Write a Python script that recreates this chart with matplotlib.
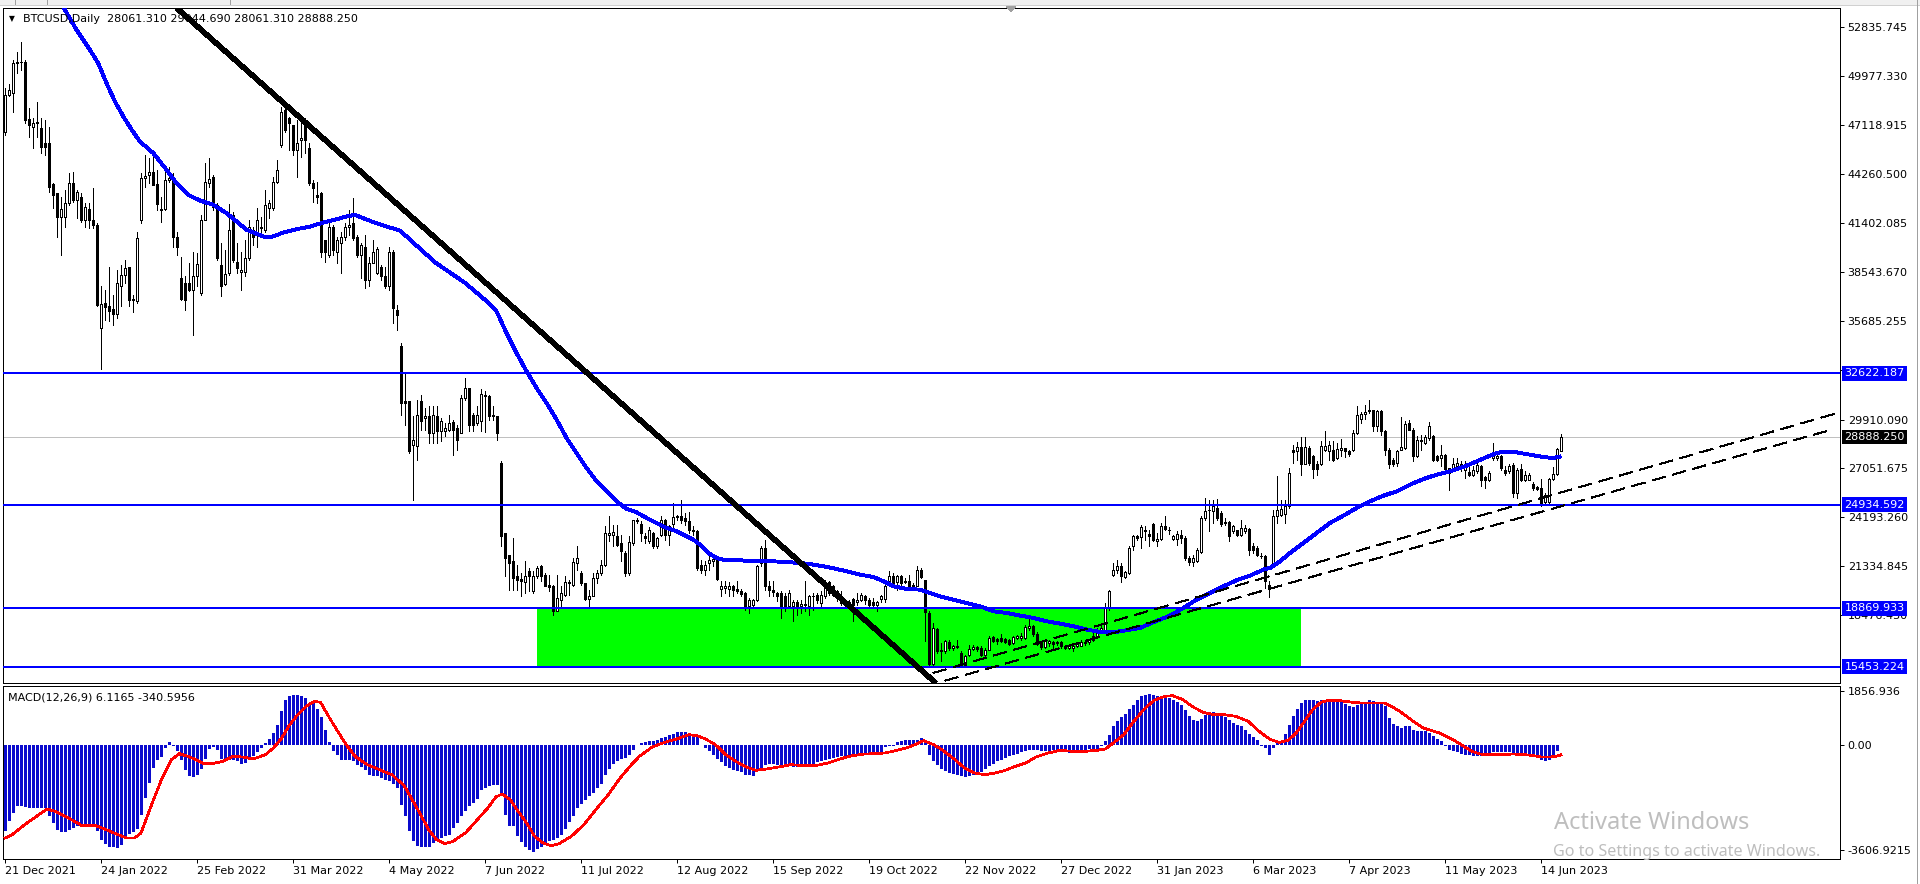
import matplotlib
matplotlib.use('Agg')
import matplotlib.pyplot as plt
import matplotlib.transforms as mtransforms
from matplotlib.patches import Rectangle
import numpy as np

plt.rcParams['font.family'] = ['DejaVu Sans']
plt.rcParams['lines.scale_dashes'] = False
plt.rcParams['lines.antialiased'] = False
plt.rcParams['patch.antialiased'] = False

# ---------------- data ----------------
symbol_header = "BTCUSD,Daily  28061.310 29044.690 28061.310 28888.250"
macd_header = "MACD(12,26,9) 6.1165 -340.5956"

date_labels = ["21 Dec 2021", "24 Jan 2022", "25 Feb 2022", "31 Mar 2022", "4 May 2022",
               "7 Jun 2022", "11 Jul 2022", "12 Aug 2022", "15 Sep 2022", "19 Oct 2022",
               "22 Nov 2022", "27 Dec 2022", "31 Jan 2023", "6 Mar 2023", "7 Apr 2023",
               "11 May 2023", "14 Jun 2023"]
bars_per_label = 24

price_ticks = [52835.745, 49977.330, 47118.915, 44260.500, 41402.085, 38543.670, 35685.255,
               32826.840, 29910.090, 27051.675, 24193.260, 21334.845, 18476.430]
level_lines = [32622.187, 24934.592, 18869.933, 15453.224]
bid_price = 28888.250
macd_ticks = [1856.936, 0.0, -3606.9215]
macd_tick_labels = ["1856.936", "0.00", "-3606.9215"]

open_ = [46739,48881,48978,50731,50828,50828,47460,47031,47226,46934,
 46058,46058,43683,43137,41775,41775,42553,43722,42748,42943,
 41580,42222,41580,41288,35252,36712,36557,36362,36089,37686,
 38367,38796,36907,36810,41580,44014,44208,44403,43683,42203,
 42203,43916,44014,40567,38173,37881,37881,37491,38270,37296,
 41580,43722,44111,42456,38951,37842,38465,41872,39146,38562,
 38562,39341,40996,40704,41190,40996,42261,42261,43819,45961,
 48005,47518,47129,45669,46253,47226,45766,43761,43040,43137,
 40412,39536,41190,39730,40217,40606,41190,41385,40606,39536,
 40022,38075,39049,38465,38854,38270,37686,39730,36323,
 34181,30969,30969,28438,28340,30969,29995,30131,29119,30131,
 29216,29216,29314,29742,29411,29119,31163,31747,30190,29703,
 29800,31261,31261,30190,30092,27367,23278,22012,21623,20747,
 20591,20397,21039,19871,20786,21331,20844,20260,20202,18703,
 19384,19676,20397,20260,21526,20942,20357,19423,19579,20650,
 20942,21428,23181,23181,23083,22694,22110,20942,22694,23959,
 23823,23083,22791,23278,22499,23181,24057,23181,23823,24213,
 24290,24154,23959,23473,23414,21428,21136,21526,21623,21681,
 20007,20065,20007,20202,20007,19910,19773,19034,19053,19384,
 21526,22402,20202,19929,19773,19773,19579,19034,
 18995,19248,18995,19092,18995,19618,19676,19190,19579,20397,
 20163,19871,19482,19287,19092,19443,19229,19384,19579,19384,
 19229,19092,19423,19423,20455,20786,20397,20786,20397,20494,
 20202,20202,21098,20553,18606,15646,17671,16464,16367,16892,
 16561,16620,16269,15588,16172,16503,16600,16561,16172,16464,
 17184,17087,17145,17087,17048,16853,17145,17145,17145,17729,
 17827,17398,16853,16620,16853,16892,16853,16892,16698,16561,
 16561,16698,16698,16853,16892,17009,17204,17476,17632,18898,
 20845,21137,21370,20708,20942,22539,23084,23045,23473,23220,
 23824,22792,22928,23707,23473,22928,22928,
 23181,22987,21818,21565,21624,22149,24155,24602,24544,24739,
 24447,23902,23902,23376,23434,23181,23376,23512,22500,22402,
 21955,21916,20261,21526,24291,24349,24408,24836,28107,28049,
 28302,27328,28243,27796,27328,27328,28146,28049,28146,27659,
 28146,28243,28049,28146,29120,29937,30249,30385,30444,29509,
 30385,29217,28146,27562,27367,28146,28243,29704,29314,27757,
 28730,28535,28828,28964,27757,27659,27854,27075,26978,27212,
 27328,26978,26822,26686,26881,27212,26550,26394,27659,27659,
 27757,26978,26881,27270,25615,27017,26394,26394,26160,25946,
 25907,25070,25070,26433,26744,28061.31]

high_ = [49271,49524,50925,51412,51996,50925,48102,47518,48492,47518,
 47421,47031,43722,43137,42943,43332,44306,44364,43332,43137,
 42553,42553,43430,41385,37686,37491,38854,37199,38659,38951,
 39243,38854,37199,40898,44306,45377,45182,45279,44500,42943,
 44695,44695,44306,40898,39438,38270,39049,39730,39633,41872,
 44890,45182,44208,42553,40217,39828,42514,42067,40217,39730,
 40412,41580,41190,42261,41775,43332,42748,44111,45084,48200,
 48102,47616,47129,47421,47324,47518,46058,43916,43819,43235,
 40412,41385,41288,40606,40898,41385,42164,42845,40704,40217,
 40704,39438,40412,39983,38951,38854,40022,39828,36615,
 34376,32624,30969,30092,31066,31358,30579,30677,30677,30677,
 29995,29703,30190,29898,29606,31358,32332,31747,30287,30677,
 31689,31553,31358,30677,30092,27464,23278,22012,22986,21428,
 20942,21623,21234,21039,21331,21428,20942,20844,20260,20844,
 20163,20747,20552,21818,22499,21039,20357,19968,20942,21136,
 21720,23667,24251,23765,23765,23181,22207,23122,24057,24154,
 23959,23278,23628,23317,23044,24251,24096,23765,25030,24349,
 25225,24446,24485,23667,23473,21720,21623,21915,21915,21720,
 20455,20455,20397,20260,20455,20007,19812,19481,19423,21428,
 22499,22889,20455,20455,19812,19871,19773,19968,
 19384,19384,19384,20455,19676,19774,19774,19871,20553,20455,
 20261,19968,19871,19384,19384,19482,19774,19774,19676,19482,
 19482,19287,19676,20358,21078,20942,20845,20845,20650,20845,
 20358,21331,21234,20553,18703,18021,17729,16853,17048,17048,
 16756,17048,16367,16172,16756,16756,16659,16659,16561,17243,
 17282,17145,17398,17145,17087,17243,17340,17437,17924,18314,
 17924,17476,16951,17048,17009,16951,16951,16951,16756,16756,
 16814,16892,17048,17048,17087,17437,17729,17827,19190,19968,
 21526,21682,21526,21039,22500,23181,23181,23765,23668,23473,
 23862,23278,23862,24291,23629,23181,23376,
 23473,23084,21916,22013,22402,24252,25323,25226,25226,25265,
 24544,24155,23960,23765,23473,24057,23765,23571,22694,22500,
 22110,22013,20455,24641,26588,25226,25226,27075,28438,28574,
 28886,28886,28341,27854,27465,28633,29217,28633,28633,28535,
 28769,28243,28146,29314,30677,30327,30775,31067,30482,30482,
 30444,29275,28243,27659,28146,30054,29801,29860,29412,28925,
 29022,29022,29743,29022,27854,28438,27913,27075,27659,27659,
 27465,27465,27328,27173,27367,27270,26588,26881,28535,27854,
 27854,27212,27328,27367,27075,27328,26881,26783,26238,26004,
 26433,25615,26491,27134,28243,29044.69]

low_ = [46545,48823,47908,50147,50341,47226,46447,45766,46447,45474,
 45377,43235,42261,40606,39536,41190,42456,42651,41677,41483,
 41190,41093,41093,36518,32857,35739,35642,35447,35836,36518,
 37881,36518,36167,36712,41385,43527,43722,43624,42164,41483,
 42164,43819,40022,39536,36907,36323,37394,34863,37686,37199,
 41580,43527,42164,39243,37102,37783,38367,39146,38465,37491,
 38270,39243,40120,40022,40801,40898,41677,42164,43722,45863,
 46739,45669,45377,44111,45279,45474,43624,42651,42553,39438,
 39146,39438,39536,39049,38465,40412,40704,40412,39438,38173,
 37589,37686,39049,38426,38075,37589,37491,35544,35155,
 30190,29606,27951,25225,27561,29314,29314,28535,28535,28535,
 28632,28924,29216,27853,28145,29119,31066,29216,29216,29606,
 29216,29158,29898,29859,28730,22499,20747,19968,19968,19968,
 19579,19773,19871,19773,20650,20455,20163,19871,18508,18703,
 18897,19618,19676,20163,21136,20260,19384,18897,19579,20357,
 20844,21331,22791,22499,22499,21623,20747,20844,22597,23862,
 22791,22694,22694,22402,22402,23083,22889,22597,23473,24057,
 23862,23765,23278,23181,21136,20942,20844,21136,21331,20552,
 19579,19773,19579,19579,19773,19579,18800,18605,18897,19287,
 21331,19968,19579,19579,19287,18313,18703,18897,
 18119,18508,18606,18703,18508,18800,19190,18995,19482,19676,
 19579,19287,19092,18995,18995,18119,19092,19287,19151,19034,
 18995,18703,19229,19229,20261,20202,19968,20163,20358,20066,
 20163,20163,20650,16951,15588,15588,16269,15782,16269,16464,
 16464,16561,15529,15529,16074,16464,16367,16074,16074,16425,
 16892,16814,16892,16853,16756,16814,17087,17048,17087,17632,
 17243,16756,16503,16561,16698,16561,16756,16561,16503,16503,
 16367,16620,16659,16756,16814,16951,17145,17437,17535,18800,
 20747,20942,20397,20650,20903,22305,22889,22402,22889,22500,
 22792,22500,22889,23473,23239,22889,22597,
 22694,21721,21429,21370,21565,22110,24057,23376,23863,24057,
 23668,23765,22792,23279,23084,23084,23279,22013,22110,21916,
 21818,20066,19540,21429,23863,24252,23863,24739,27367,27562,
 26686,27328,27270,26491,26686,27270,28049,27562,27465,27601,
 27757,27718,27757,28049,29081,29704,29937,30288,29217,29217,
 29022,27854,27075,27212,27173,28146,28185,29275,27465,27718,
 28146,28497,28730,27465,27465,27173,26939,25810,26881,26978,
 26881,26491,26628,26588,26783,26004,25907,26296,27562,27562,
 26978,26686,26783,25381,25323,26296,26296,26355,25810,25771,
 24836,24934,25031,26394,26686,28061.31]

close_ = [48881,49173,50731,50828,50789,47421,47129,47226,47324,45863,
 45863,43527,43040,41775,42203,42553,43722,42748,43235,41580,
 42320,41580,41288,36615,36654,36459,36226,36089,37881,38367,
 38757,36907,36946,40509,44014,44169,44364,43624,42495,42144,
 43916,44014,40606,40022,36946,36907,37452,38270,39010,41580,
 43819,43975,42359,39341,37725,38406,40996,39243,38757,38659,
 39341,41190,40606,41580,41093,42456,42553,43819,44500,47908,
 46837,47226,45669,46058,46350,46253,43722,43430,42943,39730,
 39730,41190,39828,40412,40606,41190,41288,40509,39536,40120,
 38075,39049,39730,39867,38270,37686,39730,36420,36031,
 30871,30871,28048,28730,30190,29800,30092,29119,30190,29216,
 29800,29411,29703,29314,28730,31163,31747,29606,29606,30190,
 31397,31358,30092,30092,29119,23083,21818,21526,20650,20552,
 20455,20747,20747,20786,21234,20786,20163,20124,18703,19481,
 19773,20397,20357,21565,21818,20357,19442,19618,20650,20942,
 21428,23278,23278,23317,22597,22207,20942,22752,24057,24057,
 23278,22986,23434,22499,22986,24057,23181,23667,24213,24251,
 24057,23959,23473,23375,21234,21136,21428,21720,21759,20591,
 20202,20163,20202,19968,19910,19715,18995,19384,19384,21331,
 22402,20202,19968,19832,19579,18995,18995,19773,
 19248,18995,19131,19151,19618,19579,19384,19637,20358,19774,
 19676,19482,19190,19092,19229,19092,19384,19676,19384,19092,
 19092,19229,19579,20202,20786,20358,20747,20358,20494,20202,
 20261,21137,20708,18645,15646,17729,16367,16367,16951,16561,
 16698,16659,15588,16074,16503,16620,16503,16172,16464,17145,
 16951,16951,16951,16892,16814,17204,17243,17243,17788,17827,
 17398,16814,16620,16951,16951,16814,16892,16659,16561,16659,
 16698,16814,16892,16931,17048,17243,17476,17729,18898,19871,
 21137,21370,20747,20981,22402,23084,22967,23629,23376,23084,
 22889,22928,23707,23512,23434,23123,23239,
 22987,21818,21565,21818,22305,24155,24544,24641,24836,24155,
 23804,23863,23084,23668,23181,23571,23571,22266,22305,22013,
 21916,20455,20008,24252,24641,24681,24836,26783,27990,28302,
 27328,28302,27367,27017,27017,28380,28380,28438,27562,28185,
 28243,28049,27913,29120,30190,30249,30327,30444,29509,30385,
 29217,28146,27328,27328,28049,28302,29665,29314,27757,28730,
 28633,28886,29509,27523,27523,27854,27017,26783,27328,27367,
 27075,27212,26686,26939,27270,26355,26394,26783,27757,27796,
 27075,26783,27212,25615,26978,26355,26686,26686,25907,25849,
 25031,25518,26433,26744,28185,28888.25]

# blue moving average (bar position, value)
ma_idx = [14, 15, 17.9, 21.25, 23.3, 25.4, 27.5, 29.6, 31.7, 33.75, 37.1, 40.4, 42.9, 45.8,
          48.75, 52.1, 55.4, 57.9, 60.4, 63, 65, 67, 69.6, 72.9, 76.25, 79.6, 82.9, 85.4,
          87.5, 89.6, 92.1, 95.4, 98.75, 107.5, 115,
          120, 122.9, 125, 127.9, 130.4, 132.9, 135.4, 137.9, 140.4, 142.9, 145.4, 147.9,
          150.4, 152.9, 155.4, 157.9, 160.4, 162.9, 165.4, 167.9, 170.4, 172.1, 173.75,
          175.8, 177.9, 179.6, 183.75, 187.9, 192.1, 196.25,
          198.75, 202.1, 204.6, 207.9, 210.4, 213.75, 217.1, 219.6, 222.1, 225.4, 228.75,
          231.25, 233.75, 237.1, 240.4, 243.75, 247.1, 250.4, 253.75, 257.1, 260.4, 263.75,
          267.1, 270.4, 273.75, 277.1, 280.4, 283.75, 287.1,
          291.25, 294.6, 297.9, 301.25, 304.6, 307.9, 311.25, 314.6, 316.25, 318.75, 321.25,
          324.6, 327.9, 331.25, 334.6, 337.9, 341.25, 344.6, 347.9, 351.25, 354.6, 357.9,
          361.25, 364.6, 367.9, 371.25, 372.9, 374.6, 377.9, 381.25, 384.6, 387.1, 389]
ma_val = [54300, 53846, 52678, 51510, 50731, 49563, 48492, 47616, 46837, 46155, 45474, 44500,
          43722, 43040, 42709, 42456, 41969, 41483, 40996, 40762, 40567, 40606, 40840, 41035,
          41190, 41424, 41619, 41775, 41872, 41677, 41444, 41190, 40957, 39100, 37900,
          36907, 36226, 35155, 33792, 32721, 31747, 30871, 29898, 28827, 27951, 27075, 26296,
          25712, 25128, 24680, 24485, 24154, 23862, 23570, 23375, 23083, 22889, 22597,
          22110, 21818, 21720, 21681, 21623, 21623, 21565,
          21526, 21429, 21331, 21176, 21039, 20845, 20708, 20455, 20163, 20008, 19968,
          19774, 19579, 19384, 19190, 18995, 18703, 18606, 18450, 18314, 18119, 17983,
          17827, 17632, 17496, 17476, 17593, 17729, 18061,
          18450, 18898, 19384, 19774, 20163, 20513, 20786, 21137, 21234, 21624, 22110,
          22694, 23279, 23863, 24291, 24739, 25128, 25459, 25712, 26102, 26433, 26686,
          26881, 27134, 27465, 27796, 27951, 28029, 27990, 27854, 27718, 27659, 27757]

# drawn objects (bar position, price)
trend_x = [43, 232.7]
trend_y = [53946, 14510]
chan1_x = [232, 457.25]
chan1_y = [15095, 30234]
chan2_x = [235, 457.25]
chan2_y = [14645, 29357]
zone_x = [133, 324]
zone_y = [15453.224, 18869.933]

# MACD histogram (one per bar)
macd_main = [
 -2979,-2634,-2346,-2116,-2116,-2151,-2174,-2174,-2174,-2174,-2174,-2461,-2691,-2921,-3013,-3013,
 -2921,-2864,-2806,-2749,-2714,-2714,-2806,-2979,-3266,-3404,-3519,-3519,
 -3554,-3439,-3209,-3059,-3013,-2898,-2404,-1829,-1311,-794,-529,-414,-104,92,-46,-219,-506,-851,
 -1058,-1104,-1024,-828,-483,-138,-69,-161,-483,-483,-506,-529,-564,-644,-621,-529,-391,-253,-104,
 69,207,414,702,1162,1564,1702,1737,1737,1702,1622,1449,1449,
 1242,966,506,92,-219,-334,-506,-529,-529,-564,-679,-759,-851,-1024,-1081,-1081,-1139,-1196,-1254,
 -1334,-1484,-2059,-2438,-2979,-3324,-3473,-3519,-3519,-3519,-3381,-3324,-3209,-3151,-3094,-2864,
 -2691,-2461,-2289,-2116,-2001,-1863,-1564,-1484,-1403,-1369,-1369,-1771,-2404,-2806,-2806,
 -3128,-3358,-3519,-3611,-3703,-3588,-3519,-3381,-3324,-3266,-3209,-3094,-2898,-2668,-2461,-2174,
 -2024,-1886,-1771,-1656,-1484,-1334,-1024,-828,-644,-564,-483,-449,-334,-161,12,
 69,92,127,150,184,242,276,345,391,437,449,437,391,391,
 276,12,-104,-219,-334,-483,-598,-713,-794,-851,-886,-943,-1024,-1024,-1058,-909,-794,-679,-644,
 -644,-679,-713,-736,-736,-759,-759,-759,-736,-679,-644,-598,-564,-506,-483,-449,-414,-391,-368,
 -334,-311,-299,-276,-276,-276,-276,-276,-253,-69,-23,-23,
 92,127,161,184,184,184,242,184,-334,-564,-679,-828,-909,-966,-989,-1024,-1081,-1104,-1058,-1024,
 -966,-943,-828,-736,-644,-564,-506,-449,-391,-334,-299,-253,-219,-161,-161,-184,-219,-219,-219,
 -184,-184,-219,-219,-276,-219,-184,-161,-161,-138,-138,
 -138,-46,127,357,644,817,966,1081,1242,1392,1564,1702,1737,1771,1737,1702,1702,1702,1622,1541,
 1472,1392,1219,1012,851,817,897,1047,1127,1127,1104,1047,966,874,759,702,644,529,391,276,161,
 -23,-104,-334,-104,92,
 127,391,702,989,1242,1449,1541,1564,1564,1507,1564,1564,1564,1564,
 1507,1472,1426,1334,1311,1392,1426,1472,1541,1507,1472,1472,1334,932,736,644,587,644,644,506,
 472,472,472,414,322,207,127,-23,-184,-219,-253,-299,-334,-345,-368,-391,-391,-368,-334,-253,
 -253,-253,-253,-253,-311,-299,-299,-299,-334,-334,-368,-529,-564,-506,-414,-219,6]

# MACD signal line (bar position, value)
sig_idx = [0, 1.8, 4.9, 7.9, 10.5, 12.5, 15.1, 18.1, 19.2, 22.7, 25.3, 28.3, 30.4, 32.4, 34, 36.5,
           39.1, 41.6, 43.6, 45.7, 47.7, 49.8, 51.8, 54.4, 56.9, 59.5, 62, 65.1, 67.1, 69.2,
           71.2, 73.2, 75.3, 77.3, 78.9, 80.4, 82.4, 85, 87.5, 90.6, 93.6, 96.7, 99.8, 101.8,
           103.9, 105.9, 107.9, 110, 112, 115.1, 118.1, 120.7, 122.7, 124.3, 126.3, 128.3,
           130.4, 132.4, 134.5, 136.5, 138.5, 141.6, 144.7, 147.7, 150.8, 153.8, 156.4, 158.6,
           161.8, 164.9, 167.9, 171, 173, 175.1, 177.6, 180.2, 182.7, 185.3, 187.8, 190.4,
           193.4, 196.5, 199.6, 202.6, 205.7, 208.7, 211.8, 214.9, 217.9, 220, 223, 226.1,
           229.7, 232.2, 234.8, 237.3, 239.9, 242.4, 245, 247.5, 250.1, 252.6, 255.2, 257.7,
           260.8, 263.8, 266.9, 270, 273, 275.1, 277.1, 279.7, 282.2, 284.8, 287.3, 289.9,
           291.9, 294.5, 297, 299.6, 302.1, 304.7, 307.7, 310.8, 313.8, 316.4, 318.6,
           320.8, 322.8, 324.9, 326.9, 329, 331, 333, 335, 337.1, 339.1, 342.2, 344.8, 346.3,
           348.3, 350.4, 352.4, 354.5, 356.5, 358.6, 360.6, 362.7, 364.7, 366.8, 368.8, 370.8,
           373.9, 377, 380, 382.1, 384.2, 386.2, 387.7, 389]
sig_val = [-3209, -3094, -2749, -2461, -2208, -2289, -2461, -2691, -2783, -2783, -2921, -3094,
           -3209, -3209, -3036, -2116, -1196, -506, -299, -391, -506, -644, -644, -564, -391,
           -414, -483, -334, -104, 242, 702, 1047, 1334, 1507, 1472, 1104, 644, 69, -391, -679,
           -851, -1024, -1403, -1886, -2404, -2921, -3266, -3404, -3324, -3036, -2576, -2174,
           -1794, -1691, -1886, -2289, -2691, -3151, -3381, -3473, -3404, -3151, -2749, -2231,
           -1714, -1139, -713, -391,
           -69, 92, 207, 357, 322, 207, 12, -334, -564, -759, -874, -828, -759, -679, -713,
           -713, -621, -483, -368, -311, -299, -276, -184, -69, 150, 12, -219, -483, -794,
           -966, -1024, -966, -874, -736, -621, -414, -276, -184, -219, -219, -184, -138, 69,
           357, 817, 1242, 1541, 1679, 1702, 1564, 1311, 1127, 1047, 1047, 989, 817, 437, 184,
           92,
           161, 414, 817, 1219, 1472, 1541, 1541, 1507, 1472, 1449, 1449, 1449, 1357, 1196,
           989, 782, 587, 506, 414, 276, 127, -46, -219, -311, -334, -334, -311, -334, -368,
           -414, -414, -391, -341]

# ---------------- figure ----------------
W, H, DPI = 1920, 884, 100
fig = plt.figure(figsize=(W / DPI, H / DPI), dpi=DPI)
fig.patch.set_facecolor('white')


def fx(px):
    return px / W


def fy(py):
    return 1 - py / H


PX = 72.0 / DPI  # points per pixel

ax = fig.add_axes([fx(3), fy(683), (1840 - 3) / W, (683 - 8.3) / H])
axm = fig.add_axes([fx(3), fy(859), (1840 - 3) / W, (859 - 686) / H])

n = len(close_)
idx = np.arange(n)
o = np.array(open_, float)
h = np.array(high_, float)
l = np.array(low_, float)
c = np.array(close_, float)

xmin, xmax = -0.5, 458.75
ax.set_xlim(xmin, xmax)
ax.set_ylim(14510, 53946)

# green zone
ax.add_patch(Rectangle((zone_x[0], zone_y[0]), zone_x[1] - zone_x[0], zone_y[1] - zone_y[0],
                       facecolor='#00FF00', edgecolor='none', zorder=1))
# bid line
ax.axhline(bid_price, color='#C0C0C0', linewidth=1 * PX, zorder=1.5)

# candles
ax.vlines(idx, l, h, color='black', linewidth=1 * PX, zorder=2)
up = c >= o
bottoms = np.minimum(o, c)
heights = np.abs(c - o)
ax.bar(idx[up], heights[up], bottom=bottoms[up], width=0.72, facecolor='white',
       edgecolor='black', linewidth=1 * PX, zorder=2.5)
ax.bar(idx[~up], heights[~up], bottom=bottoms[~up], width=0.72, facecolor='black',
       edgecolor='black', linewidth=1 * PX, zorder=2.5)

# moving average
ax.plot(ma_idx, ma_val, color='#0000FF', linewidth=2.9 * PX, zorder=3, solid_capstyle='butt')

# horizontal levels
for lv in level_lines:
    ax.axhline(lv, color='#0000FF', linewidth=2 * PX, zorder=3)

# trendline and channel
ax.plot(trend_x, trend_y, color='black', linewidth=4.4 * PX, zorder=4, solid_capstyle='butt')
for xs, ys in ((chan1_x, chan1_y), (chan2_x, chan2_y)):
    ax.plot(xs, ys, color='black', linewidth=1 * PX, zorder=4, dashes=(10, 5.5))

# axes styling main
for s in ax.spines.values():
    s.set_color('black')
    s.set_linewidth(1 * PX)
ax.set_xticks([])
ax.yaxis.tick_right()
ax.set_yticks(price_ticks)
ax.set_yticklabels(['%.3f' % t for t in price_ticks])
ax.tick_params(axis='y', direction='out', length=3 * PX * 1.4, width=1 * PX, pad=2.5,
               labelsize=8, colors='black')

trans = mtransforms.blended_transform_factory(ax.transAxes, ax.transData)
xlab = (1844.5 - 3) / (1840 - 3)
for lv in level_lines:
    ax.text(xlab, lv, '%.3f' % lv, transform=trans, fontsize=8, color='white', va='center',
            ha='left', clip_on=False, zorder=10,
            bbox=dict(boxstyle='square,pad=0.22', facecolor='#0000FF', edgecolor='none'))
ax.text(xlab, bid_price, '%.3f' % bid_price, transform=trans, fontsize=8, color='white',
        va='center', ha='left', clip_on=False, zorder=10,
        bbox=dict(boxstyle='square,pad=0.22', facecolor='black', edgecolor='none'))

# ---------------- MACD ----------------
axm.set_xlim(xmin, xmax)
axm.set_ylim(-3933, 2035)
axm.bar(idx, macd_main, width=0.75, color='#0A0ACD', zorder=2)
axm.plot(sig_idx, sig_val, color='#FF0000', linewidth=1.7 * PX, zorder=3)
for s in axm.spines.values():
    s.set_color('black')
    s.set_linewidth(1 * PX)
axm.yaxis.tick_right()
axm.set_yticks(macd_ticks)
axm.set_yticklabels(macd_tick_labels)
axm.tick_params(axis='y', direction='out', length=3 * PX * 1.4, width=1 * PX, pad=2.5,
                labelsize=8, colors='black')
tick_pos = [i * bars_per_label for i in range(len(date_labels))]
axm.set_xticks(tick_pos)
axm.set_xticklabels(date_labels, ha='left')
axm.tick_params(axis='x', direction='out', length=4 * PX, width=1 * PX, pad=2.2,
                labelsize=8, colors='black')

# ---------------- texts and chrome ----------------
fig.text(fx(12.3), fy(19), '\u25BC', fontsize=5.5, ha='center', va='center', color='black')
fig.text(fx(23), fy(18.5), symbol_header, fontsize=8, ha='left', va='center', color='black')
fig.text(fx(8), fy(697), macd_header, fontsize=8, ha='left', va='center', color='black')

fig.text(fx(1554), fy(823), 'Activate Windows', fontsize=17, ha='left', va='center',
         color='#BEBEBE', family=['Noto Sans', 'DejaVu Sans'])
fig.text(fx(1553), fy(852), 'Go to Settings to activate Windows.', fontsize=11.6, ha='left',
         va='center', color='#BEBEBE', family=['Noto Sans', 'DejaVu Sans'])

# top strip
fig.patches.append(Rectangle((0, fy(5)), 1, 5 / H, transform=fig.transFigure,
                             facecolor='#F0F0F0', edgecolor='none', zorder=0))
for xs in (15, 47, 230):
    fig.lines.append(plt.Line2D([fx(xs), fx(xs)], [fy(0), fy(5)], transform=fig.transFigure,
                                color='#A0A0A0', linewidth=1 * PX))
fig.lines.append(plt.Line2D([0, 1], [fy(5), fy(5)], transform=fig.transFigure,
                            color='#D0D0D0', linewidth=1 * PX))
fig.lines.append(plt.Line2D([fx(1917), fx(1917)], [0, 1], transform=fig.transFigure,
                            color='#A0A0A0', linewidth=1 * PX))
tri = plt.Polygon([[fx(1006), fy(6)], [fx(1016), fy(6)], [fx(1011), fy(12)]], closed=True,
                  transform=fig.transFigure, facecolor='#A0A0A0', edgecolor='none')
fig.patches.append(tri)

fig.savefig('out.png', dpi=DPI)
